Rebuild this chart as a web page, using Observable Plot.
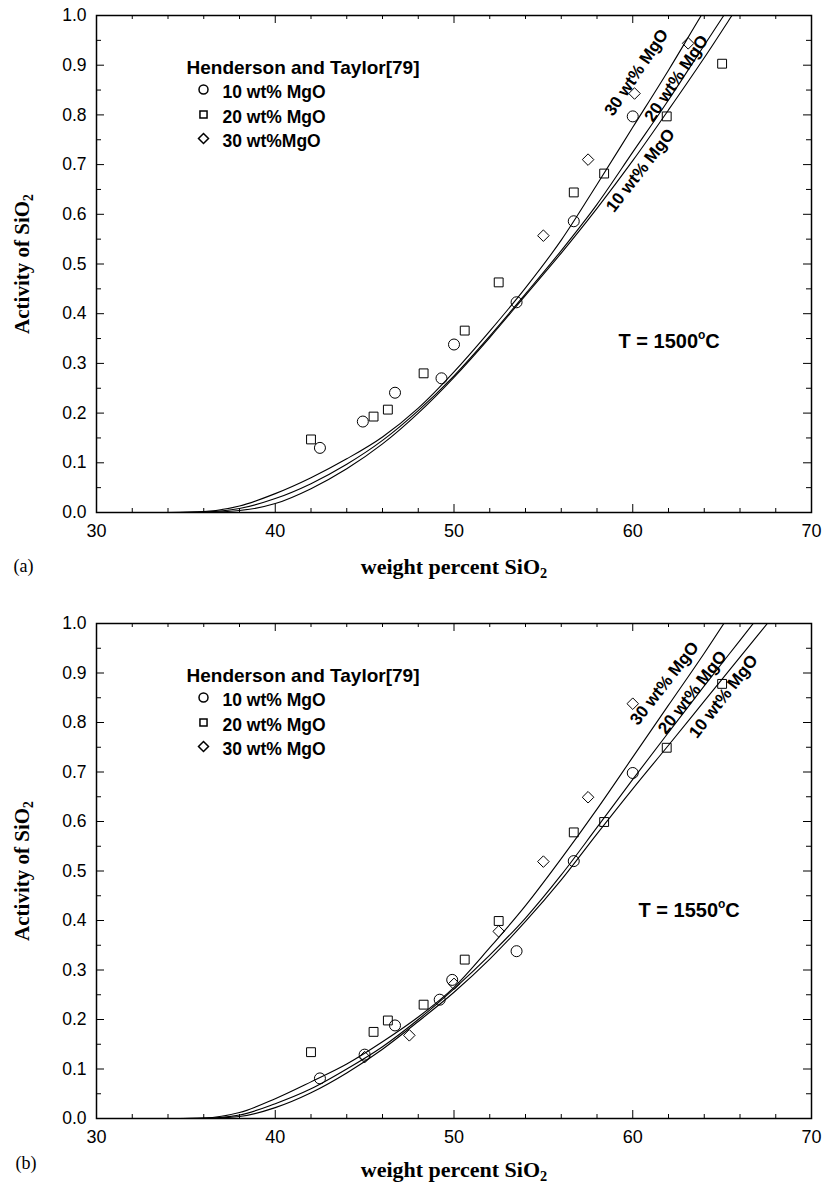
<!DOCTYPE html>
<html><head><meta charset="utf-8">
<script src="https://cdn.jsdelivr.net/npm/d3@7"></script>
<script src="https://cdn.jsdelivr.net/npm/@observablehq/plot@0.6"></script>
<style>
body{margin:0;background:#fff;}
#chart{width:826px;height:1183px;overflow:hidden;}
#chart svg{display:block;}
</style></head><body><div id="chart"></div>
<script>
// ---------- data ----------
const xMajor = [30, 40, 50, 60, 70];
const xMinor = [32, 34, 36, 38, 42, 44, 46, 48, 52, 54, 56, 58, 62, 64, 66, 68];
const yMajor = [0.0, 0.1, 0.2, 0.3, 0.4, 0.5, 0.6, 0.7, 0.8, 0.9, 1.0];
const yMinor = [0.05, 0.15, 0.25, 0.35, 0.45, 0.55, 0.65, 0.75, 0.85, 0.95];

const curveX = [34, 36, 38, 40, 42, 44, 46, 48, 50, 52, 54, 56, 58, 60, 62, 64, 66, 68];
// panel (a) T = 1500 C model curves
const a30 = [0, 0.002, 0.013, 0.038, 0.070, 0.108, 0.152, 0.210, 0.283, 0.365, 0.452, 0.548, 0.660, 0.775, 0.890, 1.010, 1.125, 1.24];
const a20 = [0, 0.001, 0.008, 0.028, 0.058, 0.097, 0.145, 0.205, 0.275, 0.355, 0.440, 0.527, 0.620, 0.725, 0.830, 0.940, 1.050, 1.16];
const a10 = [0, 0.0005, 0.004, 0.018, 0.048, 0.088, 0.138, 0.200, 0.272, 0.352, 0.437, 0.522, 0.612, 0.708, 0.810, 0.915, 1.025, 1.135];
// panel (b) T = 1550 C model curves
const b30 = [0, 0.001, 0.012, 0.040, 0.074, 0.110, 0.155, 0.205, 0.265, 0.345, 0.430, 0.525, 0.625, 0.730, 0.835, 0.940, 1.050, 1.16];
const b20 = [0, 0.0005, 0.007, 0.030, 0.060, 0.100, 0.145, 0.200, 0.262, 0.330, 0.405, 0.492, 0.588, 0.685, 0.780, 0.874, 0.966, 1.058];
const b10 = [0, 0.0003, 0.004, 0.022, 0.052, 0.092, 0.140, 0.196, 0.255, 0.322, 0.398, 0.482, 0.575, 0.666, 0.754, 0.843, 0.932, 1.021];

// Henderson and Taylor [79] data, panel (a)
const aCircX = [42.5, 44.9, 46.7, 49.3, 50.0, 53.5, 56.7, 60.0];
const aCircY = [0.130, 0.183, 0.241, 0.270, 0.338, 0.423, 0.586, 0.797];
const aSqX = [42.0, 45.5, 46.3, 48.3, 50.6, 52.5, 56.7, 58.4, 61.9, 65.0];
const aSqY = [0.147, 0.193, 0.207, 0.280, 0.366, 0.463, 0.644, 0.682, 0.797, 0.903];
const aDiaX = [55.0, 57.5, 60.1, 63.1];
const aDiaY = [0.557, 0.710, 0.843, 0.944];
// panel (b)
const bCircX = [42.5, 45.0, 46.7, 49.2, 49.9, 53.5, 56.7, 60.0];
const bCircY = [0.081, 0.129, 0.188, 0.240, 0.280, 0.338, 0.520, 0.698];
const bSqX = [42.0, 45.5, 46.3, 48.3, 50.6, 52.5, 56.7, 58.4, 61.9, 65.0];
const bSqY = [0.134, 0.175, 0.198, 0.230, 0.321, 0.399, 0.578, 0.599, 0.749, 0.878];
const bDiaX = [45.0, 47.5, 50.0, 52.5, 55.0, 57.5, 60.0];
const bDiaY = [0.124, 0.168, 0.272, 0.378, 0.519, 0.649, 0.838];

const legendTitle = "Henderson and Taylor[79]";
const legendA = ["10 wt% MgO", "20 wt% MgO", "30 wt%MgO"];
const legendB = ["10 wt% MgO", "20 wt% MgO", "30 wt% MgO"];
const curveNames = ["30 wt% MgO", "20 wt% MgO", "10 wt% MgO"];
const xTitle = "weight percent SiO2";
const yTitle = "Activity of SiO2";

// ---------- drawing ----------
const W = 826, ML = 96, MR = 15;
const SANS = "'Liberation Sans', Arial, Helvetica, sans-serif";
const SERIF = "'Liberation Serif', 'Times New Roman', Times, serif";

function pts(xs, ys) { return xs.map((x, i) => ({x, y: ys[i]})); }

function makePanel(p) {
  const innerW = W - ML - MR;
  const innerH = p.height - p.mt - p.mb;
  const rows = [];
  p.curves.forEach((vals, k) => curveX.forEach((x, i) => rows.push({x, y: vals[i], s: k})));
  const tk = {stroke: "#000", strokeWidth: 1};
  const bold = {fontFamily: SANS, fontWeight: "bold", fill: "#000"};
  const marks = [
    Plot.line(rows, {x: "x", y: "y", z: "s", curve: "monotone-x", stroke: "#000", strokeWidth: 1.1, clip: true}),
    Plot.dot(pts(p.cx, p.cy), {x: "x", y: "y", symbol: "circle", r: 5.5, stroke: "#000", strokeWidth: 1, fill: "none"}),
    Plot.dot(pts(p.sx, p.sy), {x: "x", y: "y", symbol: "square", r: 5, stroke: "#000", strokeWidth: 1, fill: "none"}),
    Plot.dot(pts(p.dx, p.dy), {x: "x", y: "y", symbol: "diamond2", r: 5.2, stroke: "#000", strokeWidth: 1, fill: "none"}),
    // inward ticks on all four sides
    Plot.tickX(xMajor, {x: d => d, insetTop: innerH - 8, ...tk}),
    Plot.tickX(xMinor, {x: d => d, insetTop: innerH - 4, ...tk}),
    Plot.tickX(xMajor, {x: d => d, insetBottom: innerH - 8, ...tk}),
    Plot.tickX(xMinor, {x: d => d, insetBottom: innerH - 4, ...tk}),
    Plot.tickY(yMajor, {y: d => d, insetRight: innerW - 8, ...tk}),
    Plot.tickY(yMinor, {y: d => d, insetRight: innerW - 5, ...tk}),
    Plot.tickY(yMajor, {y: d => d, insetLeft: innerW - 8, ...tk}),
    Plot.tickY(yMinor, {y: d => d, insetLeft: innerW - 5, ...tk}),
    Plot.frame({stroke: "#000", strokeWidth: 1.5}),
    Plot.axisX({ticks: xMajor, tickSize: 0, tickPadding: 12, tickFormat: d => String(d), fontSize: 18, fontFamily: SANS, label: null}),
    Plot.axisY({ticks: yMajor, tickSize: 0, tickPadding: 10, tickFormat: d3.format(".1f"), fontSize: 17.5, fontFamily: SANS, label: null}),
    // legend
    Plot.text([legendTitle], {text: d => d, frameAnchor: "top-left", dx: 90, dy: 58, textAnchor: "start", lineAnchor: "bottom", fontSize: 19, ...bold}),
    Plot.dot([0], {frameAnchor: "top-left", dx: 107, dy: 74, symbol: "circle", r: 4.5, stroke: "#000", fill: "none"}),
    Plot.dot([0], {frameAnchor: "top-left", dx: 107, dy: 99, symbol: "square", r: 4, stroke: "#000", fill: "none"}),
    Plot.dot([0], {frameAnchor: "top-left", dx: 107, dy: 123, symbol: "diamond2", r: 4.5, stroke: "#000", fill: "none"}),
    Plot.text([p.legend[0]], {text: d => d, frameAnchor: "top-left", dx: 126, dy: 82, textAnchor: "start", lineAnchor: "bottom", fontSize: 17.5, ...bold}),
    Plot.text([p.legend[1]], {text: d => d, frameAnchor: "top-left", dx: 126, dy: 107, textAnchor: "start", lineAnchor: "bottom", fontSize: 17.5, ...bold}),
    Plot.text([p.legend[2]], {text: d => d, frameAnchor: "top-left", dx: 126, dy: 131, textAnchor: "start", lineAnchor: "bottom", fontSize: 17.5, ...bold}),
    // temperature
    Plot.text([p.temp], {text: d => d, frameAnchor: "top-left", dx: p.tPos[0], dy: p.tPos[1], textAnchor: "start", lineAnchor: "bottom", fontSize: 20, ...bold}),
    // curve labels
    ...curveNames.map((n, k) => Plot.text([n], {text: d => d, frameAnchor: "top-left", dx: p.lab[k][0], dy: p.lab[k][1], rotate: p.lab[k][2], textAnchor: "middle", lineAnchor: "middle", fontSize: 17, ...bold})),
    // axis titles and panel tag
    Plot.text([xTitle], {text: d => d, frameAnchor: "bottom", dy: p.xtDy, textAnchor: "middle", lineAnchor: "bottom", fontSize: 22, fontFamily: SERIF, fontWeight: "bold", fill: "#000"}),
    Plot.text([yTitle], {text: d => d, frameAnchor: "left", dx: -74, rotate: -90, textAnchor: "middle", lineAnchor: "middle", fontSize: 21, fontFamily: SERIF, fontWeight: "bold", fill: "#000"}),
    Plot.text([p.tag], {text: d => d, frameAnchor: "bottom-left", dx: p.tagPos[0], dy: p.tagPos[1], textAnchor: "start", lineAnchor: "bottom", fontSize: 18, fontFamily: SERIF, fill: "#000"})
  ];
  const svg = Plot.plot({
    width: W, height: p.height,
    marginLeft: ML, marginRight: MR, marginTop: p.mt, marginBottom: p.mb,
    x: {domain: [30, 70], label: null},
    y: {domain: [0, 1], label: null},
    style: {fontFamily: SANS, background: "#fff", color: "#000", overflow: "visible"},
    marks
  });
  // sub/superscripts
  d3.select(svg).selectAll("text").each(function () {
    const t = this.textContent;
    if (/SiO2$/.test(t)) {
      const el = d3.select(this);
      el.text(null);
      el.append("tspan").text(t.slice(0, -1));
      el.append("tspan").attr("font-size", "0.65em").attr("dy", "0.3em").text("2");
    } else if (/^T = \d+oC$/.test(t)) {
      const el = d3.select(this);
      el.text(null);
      el.append("tspan").text(t.slice(0, -2));
      el.append("tspan").attr("font-size", "0.6em").attr("dy", "-0.75em").text("o");
      el.append("tspan").attr("dy", "0.45em").text("C");
    }
  });
  return svg;
}

const chart = document.getElementById("chart");
chart.append(makePanel({
  height: 590, mt: 15, mb: 78,
  curves: [a30, a20, a10],
  cx: aCircX, cy: aCircY, sx: aSqX, sy: aSqY, dx: aDiaX, dy: aDiaY,
  legend: legendA, temp: "T = 1500oC", tPos: [522, 332],
  lab: [[540, 57, -56], [580, 63, -56], [544, 155, -52]],
  xtDy: 61, tag: "(a)", tagPos: [-83, 59]
}));
chart.append(makePanel({
  height: 593, mt: 33, mb: 65,
  curves: [b30, b20, b10],
  cx: bCircX, cy: bCircY, sx: bSqX, sy: bSqY, dx: bDiaX, dy: bDiaY,
  legend: legendB, temp: "T = 1550oC", tPos: [542, 293],
  lab: [[568, 60, -52], [596, 69, -52], [627, 73, -52]],
  xtDy: 58, tag: "(b)", tagPos: [-81, 50]
}));
</script></body></html>
